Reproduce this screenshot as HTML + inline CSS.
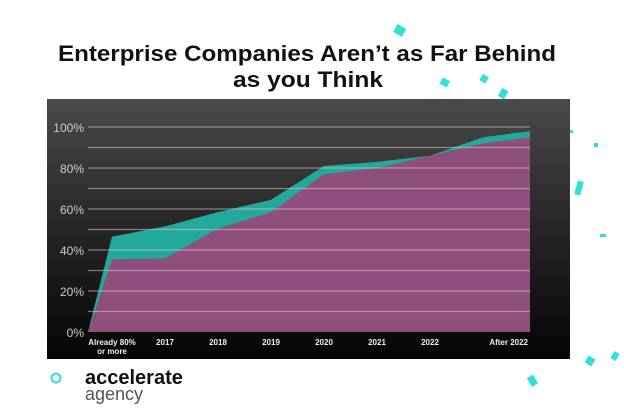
<!DOCTYPE html>
<html><head><meta charset="utf-8"><style>
html,body{margin:0;padding:0;background:#fff;}
svg{display:block;font-family:"Liberation Sans",sans-serif;}
</style></head><body>
<svg width="624" height="416" viewBox="0 0 624 416">
<defs>
<linearGradient id="bg" x1="0" y1="0" x2="0" y2="1">
<stop offset="0" stop-color="#4a4a4a"/><stop offset="0.5" stop-color="#262626"/><stop offset="1" stop-color="#050505"/>
</linearGradient>
</defs>
<g>
<text x="307" y="61" text-anchor="middle" font-size="22" font-weight="bold" textLength="498" lengthAdjust="spacingAndGlyphs" fill="#111">Enterprise Companies Aren’t as Far Behind</text>
<text x="308" y="87" text-anchor="middle" font-size="22" font-weight="bold" textLength="150" lengthAdjust="spacingAndGlyphs" fill="#111">as you Think</text>
</g>
<rect x="47" y="99" width="523" height="260" fill="url(#bg)"/>
<g id="areas"></g>
<g id="grid"></g>
<g id="yaxis"></g>
<g id="xaxis"></g>
<g fill="#2de0d8">
<rect x="395" y="26" width="10" height="9" transform="rotate(30 400 30)"/>
<rect x="441" y="79" width="8" height="7" transform="rotate(30 445 82)"/>
<rect x="481" y="75" width="7" height="7" transform="rotate(30 484 78)"/>
<rect x="500" y="89" width="7" height="9" transform="rotate(30 503 93)"/>
<rect x="576" y="181" width="6" height="14" transform="rotate(15 579 188)"/>
<rect x="594" y="143" width="4" height="4"/>
<rect x="600" y="234" width="6" height="3"/>
<rect x="586" y="357" width="8" height="8" transform="rotate(30 590 361)"/>
<rect x="612" y="352" width="6" height="8" transform="rotate(30 615 356)"/>
<rect x="529" y="376" width="7" height="10" transform="rotate(-30 532 381)"/>
<rect x="570" y="130" width="3" height="3"/>
</g>
<g>
<circle cx="56" cy="378" r="4.5" fill="none" stroke="#2de0d8" stroke-width="2"/>
<text x="85" y="384" font-size="20" font-weight="bold" fill="#111">accelerate</text>
<text x="85" y="400" font-size="18" fill="#555">agency</text>
</g>
</svg>
<script>
const categories=["Already 80%|or more","2017","2018","2019","2020","2021","2022","After 2022"];
const tealValues=[46.5,51.5,58.5,64.5,81,83,86,95];
const pinkValues=[35.4,36,50.4,58.5,77,80,86,92];
const endTeal=98, endPink=95;
const yTicks=[0,20,40,60,80,100];
const ns="http://www.w3.org/2000/svg";
const y0=332,y100=127,plotL=88,plotR=530;
const y=v=>y0-(y0-y100)*v/100;
const x=i=>112+53*i;
function mk(t,a,p){const e=document.createElementNS(ns,t);for(const k in a)e.setAttribute(k,a[k]);p.appendChild(e);return e;}
function areaPath(vals,endV){
 let d=`M${plotL},${y0} L${plotL},${y(0)}`;
 vals.forEach((v,i)=>{d+=` L${x(i)},${y(v)}`;});
 d+=` L${plotR},${y(endV)} L${plotR},${y0} Z`;return d;
}
const areas=document.getElementById('areas');
const t=mk('path',{d:areaPath(tealValues,endTeal),fill:'#23a89c'},areas);


const p=mk('path',{d:areaPath(pinkValues,endPink),fill:'#8e4f7c'},areas);


const grid=document.getElementById('grid');
for(let v=10;v<=100;v+=10){
 const l=mk('line',{x1:plotL,x2:plotR,y1:y(v),y2:y(v),stroke:'#d8c8d2','stroke-opacity':0.55,'stroke-width':1.2},grid);
 
 
}
const ya=document.getElementById('yaxis');
yTicks.forEach(v=>{
 const e=mk('text',{x:84,y:y(v)+5,'text-anchor':'end','font-size':12,fill:'#ccc'},ya);
 e.textContent=v+'%';
 
 
});
const xa=document.getElementById('xaxis');
categories.forEach((c,i)=>{
 const last=i===categories.length-1;
 const parts=c.split('|');
 parts.forEach((s,j)=>{
  const e=mk('text',{x:last?plotR-2:x(i),y:345+j*9,'text-anchor':last?'end':'middle','font-size':8,'font-weight':'bold',fill:'#eee'},xa);
  e.textContent=s;
  
  
 });
});
</script>
</body></html>
